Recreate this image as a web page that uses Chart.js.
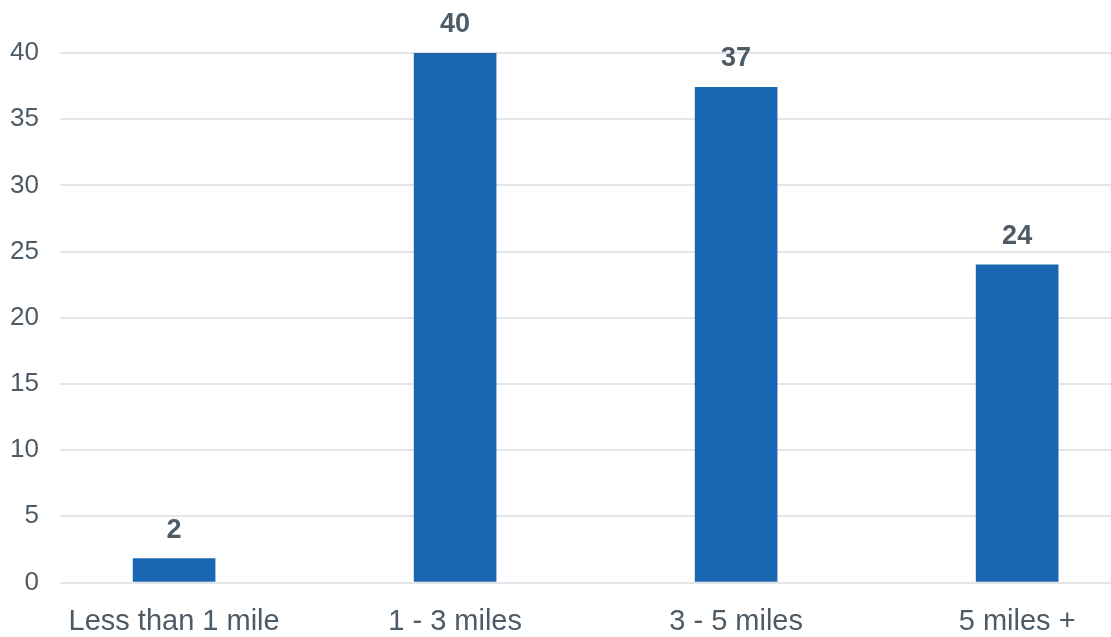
<!DOCTYPE html>
<html>
<head>
<meta charset="utf-8">
<script src="https://cdn.jsdelivr.net/npm/chart.js@4"></script>
<style>
  html, body { margin: 0; padding: 0; background: #fff; overflow: hidden; }
  #wrap { width: 1111px; height: 637px; }
</style>
</head>
<body>
<div id="wrap"><canvas id="distChart"></canvas></div>
<script>
const categories = ['Less than 1 mile', '1 - 3 miles', '3 - 5 miles', '5 miles +'];
const values = [1.8, 40, 37.4, 24];
const yTicks = [0, 5, 10, 15, 20, 25, 30, 35, 40];

const textColor = '#4d5b67';
const font = 'Liberation Sans, Arial, Helvetica, sans-serif';

// value labels above each bar
const valueLabels = {
  id: 'valueLabels',
  afterDatasetsDraw(chart) {
    const ctx = chart.ctx;
    const meta = chart.getDatasetMeta(0);
    ctx.save();
    ctx.font = 'bold 27px ' + font;
    ctx.fillStyle = textColor;
    ctx.textAlign = 'center';
    ctx.textBaseline = 'alphabetic';
    meta.data.forEach((bar, i) => {
      ctx.fillText(String(Math.round(values[i])), bar.x, bar.y - 21);
    });
    ctx.restore();
  }
};

new Chart(document.getElementById('distChart'), {
  type: 'bar',
  data: {
    datasets: [{
      data: values.map((v, i) => ({ x: i, y: v })),
      backgroundColor: '#1b66b2',
      barThickness: 82
    }]
  },
  options: {
    responsive: true,
    maintainAspectRatio: false,
    animation: false,
    layout: { padding: { top: 53, right: 0, bottom: 0, left: 0 } },
    plugins: {
      legend: { display: false },
      tooltip: { enabled: false }
    },
    scales: {
      x: {
        type: 'linear',
        offset: false,
        min: -0.406,
        max: 3.334,
        grid: { display: false, drawTicks: false },
        border: { display: false },
        afterBuildTicks: axis => { axis.ticks = categories.map((c, i) => ({ value: i })); },
        afterFit: axis => { axis.height = 54.5; },
        ticks: {
          autoSkip: false,
          maxRotation: 0,
          padding: 22,
          color: textColor,
          font: { family: font, size: 29 },
          callback: v => categories[v]
        }
      },
      y: {
        min: 0,
        max: 40,
        afterBuildTicks: axis => { axis.ticks = yTicks.map(v => ({ value: v })); },
        afterFit: axis => { axis.width = 60; },
        grid: { color: '#e4e5e9', lineWidth: 2, drawTicks: false },
        border: { display: false },
        ticks: {
          padding: 21,
          color: textColor,
          font: { family: font, size: 26 }
        }
      }
    }
  },
  plugins: [valueLabels]
});
</script>
</body>
</html>
